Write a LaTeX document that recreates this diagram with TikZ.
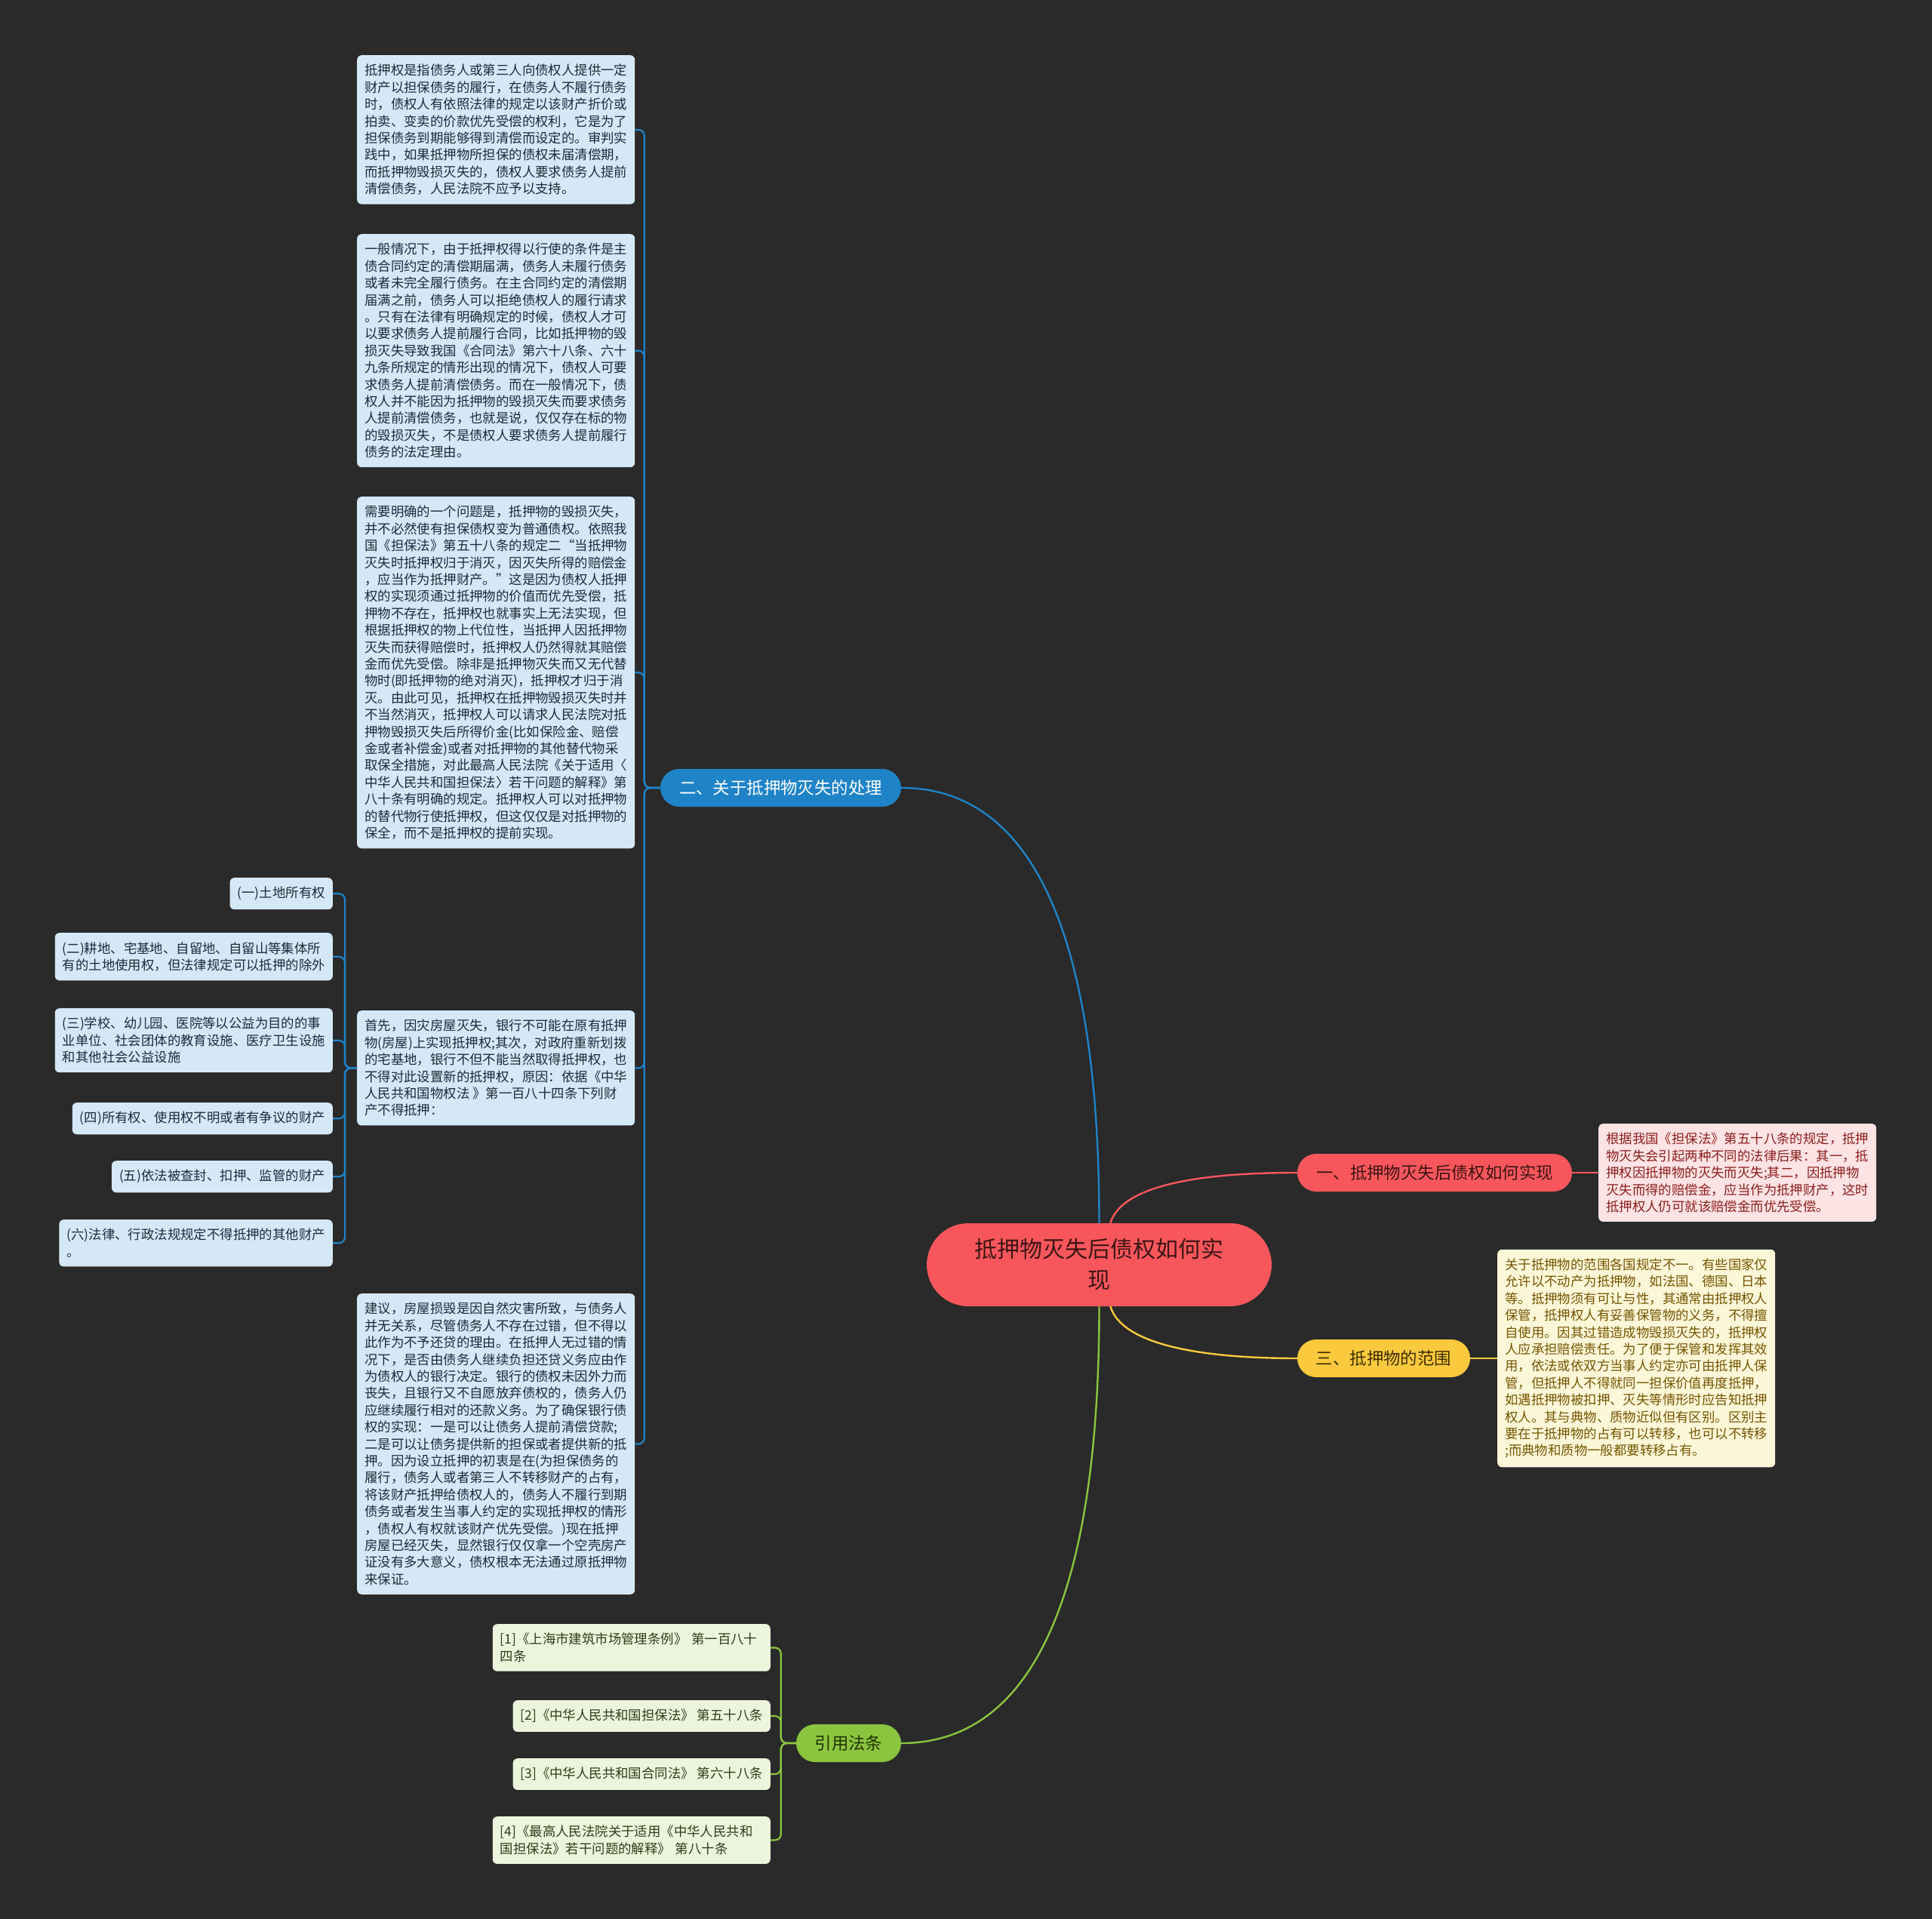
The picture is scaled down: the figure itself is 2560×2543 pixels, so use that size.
\documentclass[tikz,border=0pt]{standalone}
\usepackage{fontspec}
\setmainfont{Noto Sans CJK SC}
\definecolor{bg}{HTML}{2A2A2A}
\definecolor{cblue}{HTML}{1F83C7}
\definecolor{bleafc}{HTML}{D5E8F5}
\definecolor{bleaft}{HTML}{1E2B38}
\definecolor{cred}{HTML}{F7575C}
\definecolor{rleafc}{HTML}{FDE3E3}
\definecolor{rleaft}{HTML}{8B1E1E}
\definecolor{credt}{HTML}{3D1414}
\definecolor{cyel}{HTML}{FBC93D}
\definecolor{yleafc}{HTML}{FDF7D9}
\definecolor{yleaft}{HTML}{735500}
\definecolor{cyelt}{HTML}{3B2E00}
\definecolor{cgrn}{HTML}{8BC53F}
\definecolor{gleafc}{HTML}{ECF5DC}
\definecolor{gleaft}{HTML}{2F3B1A}
\definecolor{cgrnt}{HTML}{1F3300}
\begin{document}
\begin{tikzpicture}[x=1pt,y=-1pt,
  leaf/.style={rounded corners=6, align=left, inner xsep=10, inner ysep=12, font=\fontsize{17.4}{22.4}\selectfont},
  bleaf/.style={leaf, fill=bleafc, text=bleaft},
  rleaf/.style={leaf, fill=rleafc, text=rleaft},
  yleaf/.style={leaf, fill=yleafc, text=yleaft},
  gleaf/.style={leaf, fill=gleafc, text=gleaft},
  branch/.style={rounded corners=25, minimum height=50, inner sep=0, font=\fontsize{22.4}{26}\selectfont},
  lnB/.style={draw=cblue, line width=2.2pt, rounded corners=8},
  lnR/.style={draw=cred, line width=2.4pt},
  lnY/.style={draw=cyel, line width=2.4pt},
  lnG/.style={draw=cgrn, line width=2.2pt, rounded corners=8},
]
\fill[bg] (0,0) rectangle (2560,2543);
\useasboundingbox (0,0) rectangle (2560,2543);

% center
\node[fill=cred, text=credt, rounded corners=55, minimum width=457, minimum height=110, align=center, inner sep=0,
  font=\fontsize{30}{41}\selectfont] (c) at (1456.5,1676) {抵押物灭失后债权如何实\\现};

% branches
\node[branch, fill=cblue, text=white, minimum width=319] (b2) at (1034.5,1044) {二、关于抵押物灭失的处理};
\node[branch, fill=cred, text=credt, minimum width=364] (b1) at (1901,1554) {一、抵押物灭失后债权如何实现};
\node[branch, fill=cyel, text=cyelt, minimum width=229] (b3) at (1833.5,1800) {三、抵押物的范围};
\node[branch, fill=cgrn, text=cgrnt, minimum width=139] (b4) at (1124.5,2310) {引用法条};

% blue leaves
\node[bleaf, anchor=north west] (l1) at (473,73) {抵押权是指债务人或第三人向债权人提供一定\\财产以担保债务的履行，在债务人不履行债务\\时，债权人有依照法律的规定以该财产折价或\\拍卖、变卖的价款优先受偿的权利，它是为了\\担保债务到期能够得到清偿而设定的。审判实\\践中，如果抵押物所担保的债权未届清偿期，\\而抵押物毁损灭失的，债权人要求债务人提前\\清偿债务，人民法院不应予以支持。};
\node[bleaf, anchor=north west] (l2) at (473,310) {一般情况下，由于抵押权得以行使的条件是主\\债合同约定的清偿期届满，债务人未履行债务\\或者未完全履行债务。在主合同约定的清偿期\\届满之前，债务人可以拒绝债权人的履行请求\\。只有在法律有明确规定的时候，债权人才可\\以要求债务人提前履行合同，比如抵押物的毁\\损灭失导致我国《合同法》第六十八条、六十\\九条所规定的情形出现的情况下，债权人可要\\求债务人提前清偿债务。而在一般情况下，债\\权人并不能因为抵押物的毁损灭失而要求债务\\人提前清偿债务，也就是说，仅仅存在标的物\\的毁损灭失，不是债权人要求债务人提前履行\\债务的法定理由。};
\node[bleaf, anchor=north west] (l3) at (473,658) {需要明确的一个问题是，抵押物的毁损灭失，\\并不必然使有担保债权变为普通债权。依照我\\国《担保法》第五十八条的规定二“当抵押物\\灭失时抵押权归于消灭，因灭失所得的赔偿金\\，应当作为抵押财产。”这是因为债权人抵押\\权的实现须通过抵押物的价值而优先受偿，抵\\押物不存在，抵押权也就事实上无法实现，但\\根据抵押权的物上代位性，当抵押人因抵押物\\灭失而获得赔偿时，抵押权人仍然得就其赔偿\\金而优先受偿。除非是抵押物灭失而又无代替\\物时(即抵押物的绝对消灭)，抵押权才归于消\\灭。由此可见，抵押权在抵押物毁损灭失时并\\不当然消灭，抵押权人可以请求人民法院对抵\\押物毁损灭失后所得价金(比如保险金、赔偿\\金或者补偿金)或者对抵押物的其他替代物采\\取保全措施，对此最高人民法院《关于适用〈\\中华人民共和国担保法〉若干问题的解释》第\\八十条有明确的规定。抵押权人可以对抵押物\\的替代物行使抵押权，但这仅仅是对抵押物的\\保全，而不是抵押权的提前实现。};
\node[bleaf, anchor=north west] (l4) at (473,1339) {首先，因灾房屋灭失，银行不可能在原有抵押\\物(房屋)上实现抵押权;其次，对政府重新划拨\\的宅基地，银行不但不能当然取得抵押权，也\\不得对此设置新的抵押权，原因：依据《中华\\人民共和国物权法 》第一百八十四条下列财\\产不得抵押：};
\node[bleaf, anchor=north west] (l5) at (473,1714) {建议，房屋损毁是因自然灾害所致，与债务人\\并无关系，尽管债务人不存在过错，但不得以\\此作为不予还贷的理由。在抵押人无过错的情\\况下，是否由债务人继续负担还贷义务应由作\\为债权人的银行决定。银行的债权未因外力而\\丧失，且银行又不自愿放弃债权的，债务人仍\\应继续履行相对的还款义务。为了确保银行债\\权的实现：一是可以让债务人提前清偿贷款;\\二是可以让债务提供新的担保或者提供新的抵\\押。因为设立抵押的初衷是在(为担保债务的\\履行，债务人或者第三人不转移财产的占有，\\将该财产抵押给债权人的，债务人不履行到期\\债务或者发生当事人约定的实现抵押权的情形\\，债权人有权就该财产优先受偿。)现在抵押\\房屋已经灭失，显然银行仅仅拿一个空壳房产\\证没有多大意义，债权根本无法通过原抵押物\\来保证。};

% sub leaves of l4
\node[bleaf, anchor=north east] (s1) at (441,1163) {(一)土地所有权};
\node[bleaf, anchor=north east] (s2) at (441,1236) {(二)耕地、宅基地、自留地、自留山等集体所\\有的土地使用权，但法律规定可以抵押的除外};
\node[bleaf, anchor=north east] (s3) at (441,1336) {(三)学校、幼儿园、医院等以公益为目的的事\\业单位、社会团体的教育设施、医疗卫生设施\\和其他社会公益设施};
\node[bleaf, anchor=north east] (s4) at (441,1461) {(四)所有权、使用权不明或者有争议的财产};
\node[bleaf, anchor=north east] (s5) at (441,1538) {(五)依法被查封、扣押、监管的财产};
\node[bleaf, anchor=north east] (s6) at (441,1616) {(六)法律、行政法规规定不得抵押的其他财产\\。};

% right leaves
\node[rleaf, anchor=west] (r1) at (2118,1554) {根据我国《担保法》第五十八条的规定，抵押\\物灭失会引起两种不同的法律后果：其一，抵\\押权因抵押物的灭失而灭失;其二，因抵押物\\灭失而得的赔偿金，应当作为抵押财产，这时\\抵押权人仍可就该赔偿金而优先受偿。};
\node[yleaf, anchor=west] (y1) at (1984,1800) {关于抵押物的范围各国规定不一。有些国家仅\\允许以不动产为抵押物，如法国、德国、日本\\等。抵押物须有可让与性，其通常由抵押权人\\保管，抵押权人有妥善保管物的义务，不得擅\\自使用。因其过错造成物毁损灭失的，抵押权\\人应承担赔偿责任。为了便于保管和发挥其效\\用，依法或依双方当事人约定亦可由抵押人保\\管，但抵押人不得就同一担保价值再度抵押，\\如遇抵押物被扣押、灭失等情形时应告知抵押\\权人。其与典物、质物近似但有区别。区别主\\要在于抵押物的占有可以转移，也可以不转移\\;而典物和质物一般都要转移占有。};

% law leaves
\node[gleaf, anchor=north east, text width=348] (g1) at (1021,2152) {[1]《上海市建筑市场管理条例》 第一百八十\\四条};
\node[gleaf, anchor=north east] (g2) at (1021,2253) {[2]《中华人民共和国担保法》 第五十八条};
\node[gleaf, anchor=north east] (g3) at (1021,2330) {[3]《中华人民共和国合同法》 第六十八条};
\node[gleaf, anchor=north east, text width=348] (g4) at (1021,2407) {[4]《最高人民法院关于适用《中华人民共和\\国担保法》若干问题的解释》 第八十条};

% main connectors
\draw[draw=cblue, line width=2.4pt] (c.north) .. controls +(0,-420) and +(156,0) .. (b2.east);
\draw[draw=cgrn, line width=2.4pt] (c.south) .. controls +(0,420) and +(156,0) .. (b4.east);
\draw[lnR] (c.75) .. controls +(15,-50) and +(-130,0) .. (b1.west);
\draw[lnY] (c.-75) .. controls +(15,50) and +(-130,0) .. (b3.west);
\draw[lnR] (b1.east) -- (r1.west);
\draw[lnY] (b3.east) -- (y1.west);

% blue leaf connectors
\foreach \n in {l1,l2,l3,l4,l5}
  \draw[lnB] (b2.west) -- ++(-21,0) |- (\n.east);
\foreach \n in {s1,s2,s3,s4,s5,s6}
  \draw[lnB] (l4.west) -- ++(-16,0) |- (\n.east);
\foreach \n in {g1,g2,g3,g4}
  \draw[lnG] (b4.west) -- ++(-20,0) |- (\n.east);
\end{tikzpicture}
\end{document}
